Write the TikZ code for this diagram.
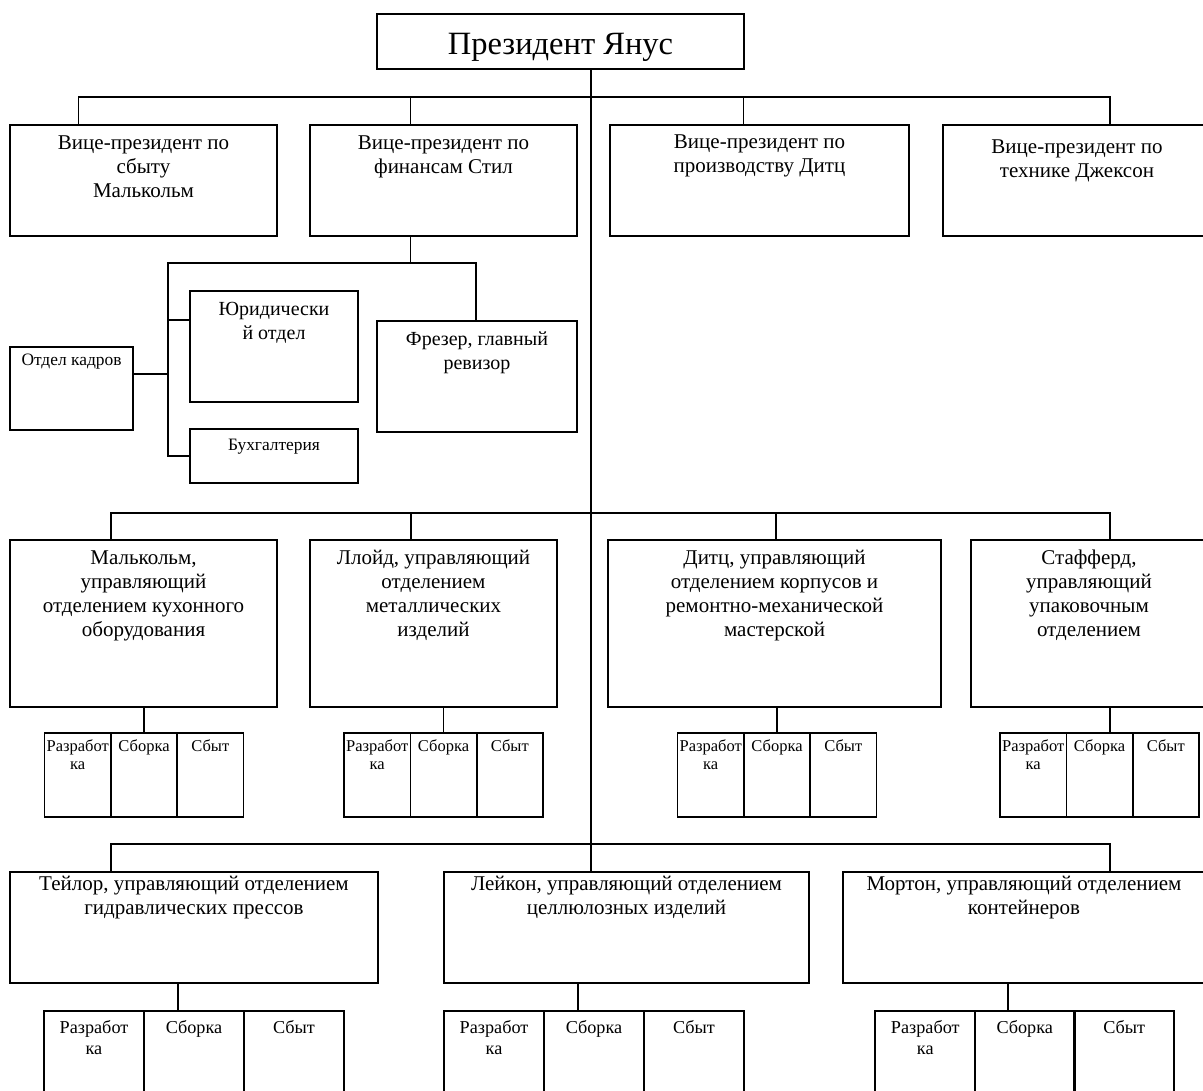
\documentclass[tikz,border=0pt]{standalone}
\usepackage{fontspec}
\setmainfont{Liberation Serif}
\usepackage{tikz}
\usetikzlibrary{positioning}
\newcommand{\fbig}{\fontsize{32.5}{38}\selectfont}
\newcommand{\fmid}{\fontsize{21}{24}\selectfont}
\newcommand{\fsub}{\fontsize{20}{24}\selectfont}
\newcommand{\fsml}{\fontsize{17.4}{20}\selectfont}
\newcommand{\fcell}{\fontsize{16.5}{18}\selectfont}
\newcommand{\fcellb}{\fontsize{18.2}{21}\selectfont}
\tikzstyle{link} = [line width=1.7pt]
\tikzstyle{unit} = [rectangle, draw, line width=1.7pt, inner sep=0pt]
\tikzstyle{cell} = [unit, minimum width=66.3pt, minimum height=84pt]
\tikzstyle{cellb} = [unit, minimum width=100pt, minimum height=100pt]
\tikzset{txt/.style n args={3}{label={[anchor=north, align=center, draw=none, inner sep=0pt, minimum width=0pt, minimum height=0pt, font=#1, yshift=-#2]north:{#3}}}}

\begin{document}
\begin{tikzpicture}[x=1pt, y=-1pt]
\useasboundingbox (0,0) rectangle (1203,1091);

% President
\node (pres) [unit, minimum width=367pt, minimum height=55pt, txt={\fbig}{20pt}{Президент Янус}] at (560.5,41.5) {};

% Vice-presidents
\node (vp1) [unit, minimum width=267pt, minimum height=111pt, txt={\fmid}{11pt}{Вице-президент по\\сбыту\\Малькольм}] at (143.5,180.5) {};
\node (vp2) [unit, right of=vp1, node distance=300pt, minimum width=267pt, minimum height=111pt, txt={\fmid}{11pt}{Вице-президент по\\финансам Стил}] {};
\node (vp3) [unit, right of=vp2, node distance=316pt, minimum width=299pt, minimum height=111pt, txt={\fmid}{10pt}{Вице-президент по\\производству Дитц}] {};
\node (vp4) [unit, right of=vp3, node distance=317.5pt, minimum width=268pt, minimum height=111pt, txt={\fmid}{15pt}{Вице-президент по\\технике Джексон}] {};

% Finance staff
\node (jur) [unit, minimum width=168pt, minimum height=111pt, txt={\fsub}{12pt}{Юридически\\й отдел}] at (274,346.5) {};
\node (buh) [unit, minimum width=168pt, minimum height=54pt, txt={\fsml}{11pt}{Бухгалтерия}] at (274,456) {};
\node (kadr) [unit, minimum width=123pt, minimum height=83pt, txt={\fsml}{8pt}{Отдел кадров}] at (71.5,388.5) {};
\node (frez) [unit, minimum width=200pt, minimum height=111pt, txt={\fsub}{11pt}{Фрезер, главный\\ревизор}] at (477,376.5) {};

% Divisions
\node (d1) [unit, minimum width=267pt, minimum height=167pt, txt={\fmid}{11pt}{Малькольм,\\управляющий\\отделением кухонного\\оборудования}] at (143.5,623.5) {};
\node (d2) [unit, right of=d1, node distance=290pt, minimum width=247pt, minimum height=167pt, txt={\fmid}{11pt}{Ллойд, управляющий\\отделением\\металлических\\изделий}] {};
\node (d3) [unit, right of=d2, node distance=341pt, minimum width=333pt, minimum height=167pt, txt={\fmid}{11pt}{Дитц, управляющий\\отделением корпусов и\\ремонтно-механической\\мастерской}] {};
\node (d4) [unit, right of=d3, node distance=314.5pt, minimum width=236pt, minimum height=167pt, txt={\fmid}{11pt}{Стафферд,\\управляющий\\упаковочным\\отделением}] {};

% Sections under divisions
\node (asm1) [cell, txt={\fcell}{7pt}{Сборка}] at (144,775) {};
\node (dev1) [cell, left of=asm1, node distance=66.3pt, txt={\fcell}{7pt}{Разработ\\ка}] {};
\node (sal1) [cell, right of=asm1, node distance=66.3pt, txt={\fcell}{7pt}{Сбыт}] {};
\node (asm2) [cell, txt={\fcell}{7pt}{Сборка}] at (443.5,775) {};
\node (dev2) [cell, left of=asm2, node distance=66.3pt, txt={\fcell}{7pt}{Разработ\\ка}] {};
\node (sal2) [cell, right of=asm2, node distance=66.3pt, txt={\fcell}{7pt}{Сбыт}] {};
\node (asm3) [cell, txt={\fcell}{7pt}{Сборка}] at (777,775) {};
\node (dev3) [cell, left of=asm3, node distance=66.3pt, txt={\fcell}{7pt}{Разработ\\ка}] {};
\node (sal3) [cell, right of=asm3, node distance=66.3pt, txt={\fcell}{7pt}{Сбыт}] {};
\node (asm4) [cell, txt={\fcell}{7pt}{Сборка}] at (1099.5,775) {};
\node (dev4) [cell, left of=asm4, node distance=66.3pt, txt={\fcell}{7pt}{Разработ\\ка}] {};
\node (sal4) [cell, right of=asm4, node distance=66.3pt, txt={\fcell}{7pt}{Сбыт}] {};

% Lower divisions
\node (b1) [unit, minimum width=368pt, minimum height=111pt, txt={\fmid}{5pt}{Тейлор, управляющий отделением\\гидравлических прессов}] at (194,927.5) {};
\node (b2) [unit, right of=b1, node distance=432.5pt, minimum width=365pt, minimum height=111pt, txt={\fmid}{5pt}{Лейкон, управляющий отделением\\целлюлозных изделий}] {};
\node (b3) [unit, right of=b2, node distance=397.5pt, minimum width=362pt, minimum height=111pt, txt={\fmid}{5pt}{Мортон, управляющий отделением\\контейнеров}] {};

% Sections under lower divisions
\node (asm5) [cellb, txt={\fcellb}{10pt}{Сборка}] at (194,1061) {};
\node (dev5) [cellb, left of=asm5, node distance=100pt, txt={\fcellb}{10pt}{Разработ\\ка}] {};
\node (sal5) [cellb, right of=asm5, node distance=100pt, txt={\fcellb}{10pt}{Сбыт}] {};
\node (asm6) [cellb, txt={\fcellb}{10pt}{Сборка}] at (594,1061) {};
\node (dev6) [cellb, left of=asm6, node distance=100pt, txt={\fcellb}{10pt}{Разработ\\ка}] {};
\node (sal6) [cellb, right of=asm6, node distance=100pt, txt={\fcellb}{10pt}{Сбыт}] {};
\node (asm7) [cellb, txt={\fcellb}{10pt}{Сборка}] at (1024.75,1061) {};
\node (dev7) [cellb, left of=asm7, node distance=99.5pt, txt={\fcellb}{10pt}{Разработ\\ка}] {};
\node (sal7) [cellb, right of=asm7, node distance=99.5pt, txt={\fcellb}{10pt}{Сбыт}] {};

% Bus points
\coordinate (spine) at (591,69);
\coordinate (vpbusL) at (78.5,97);
\coordinate (vpbusR) at (1110,97);
\coordinate (vpdropB) at (410.6,97);
\coordinate (vpdropC) at (743.5,97);
\coordinate (finL) at (168,263);
\coordinate (finR) at (476,263);
\coordinate (jurJ) at (168,320);
\coordinate (kadrJ) at (168,374);
\coordinate (divbusL) at (111,513);
\coordinate (divbusR) at (1110,513);
\coordinate (divdropB) at (411,513);
\coordinate (divdropC) at (776,513);
\coordinate (botbusL) at (111,844);
\coordinate (botbusR) at (1110,844);
\coordinate (b1drop) at (178,983);
\coordinate (b2drop) at (578,983);
\coordinate (b3drop) at (1008,983);

% Connectors
\draw[link] (pres.south -| spine) -- (b2.north -| spine);
\draw[link] (vp1.north -| vpbusL) -- (vpbusL) -- (vpbusR) -- (vp4.north -| vpbusR);
\draw[link] (vpdropB) -- (vp2.north -| vpdropB);
\draw[link] (vpdropC) -- (vp3.north -| vpdropC);
\draw[link] (vp2.south -| vpdropB) -- (vpdropB |- finL);
\draw[link] (frez.north -| finR) -- (finR) -- (finL) -- (finL |- buh.west) -- (buh.west);
\draw[link] (jurJ) -- (jurJ -| jur.west);
\draw[link] (kadr.east |- kadrJ) -- (kadrJ);
\draw[link] (d1.north -| divbusL) -- (divbusL) -- (divbusR) -- (d4.north -| divbusR);
\draw[link] (divdropB) -- (d2.north -| divdropB);
\draw[link] (divdropC) -- (d3.north -| divdropC);
\draw[link] (d1.south -| asm1) -- (asm1.north);
\draw[link] (d2.south -| asm2) -- (asm2.north);
\draw[link] (d3.south -| asm3) -- (asm3.north);
\draw[link] (d4.south -| divbusR) -- (asm4.north -| divbusR);
\draw[link] (b1.north -| botbusL) -- (botbusL) -- (botbusR) -- (b3.north -| botbusR);
\draw[link] (b1drop) -- (b1drop |- asm5.north);
\draw[link] (b2drop) -- (b2drop |- asm6.north);
\draw[link] (b3drop) -- (b3drop |- asm7.north);
\end{tikzpicture}
\end{document}
